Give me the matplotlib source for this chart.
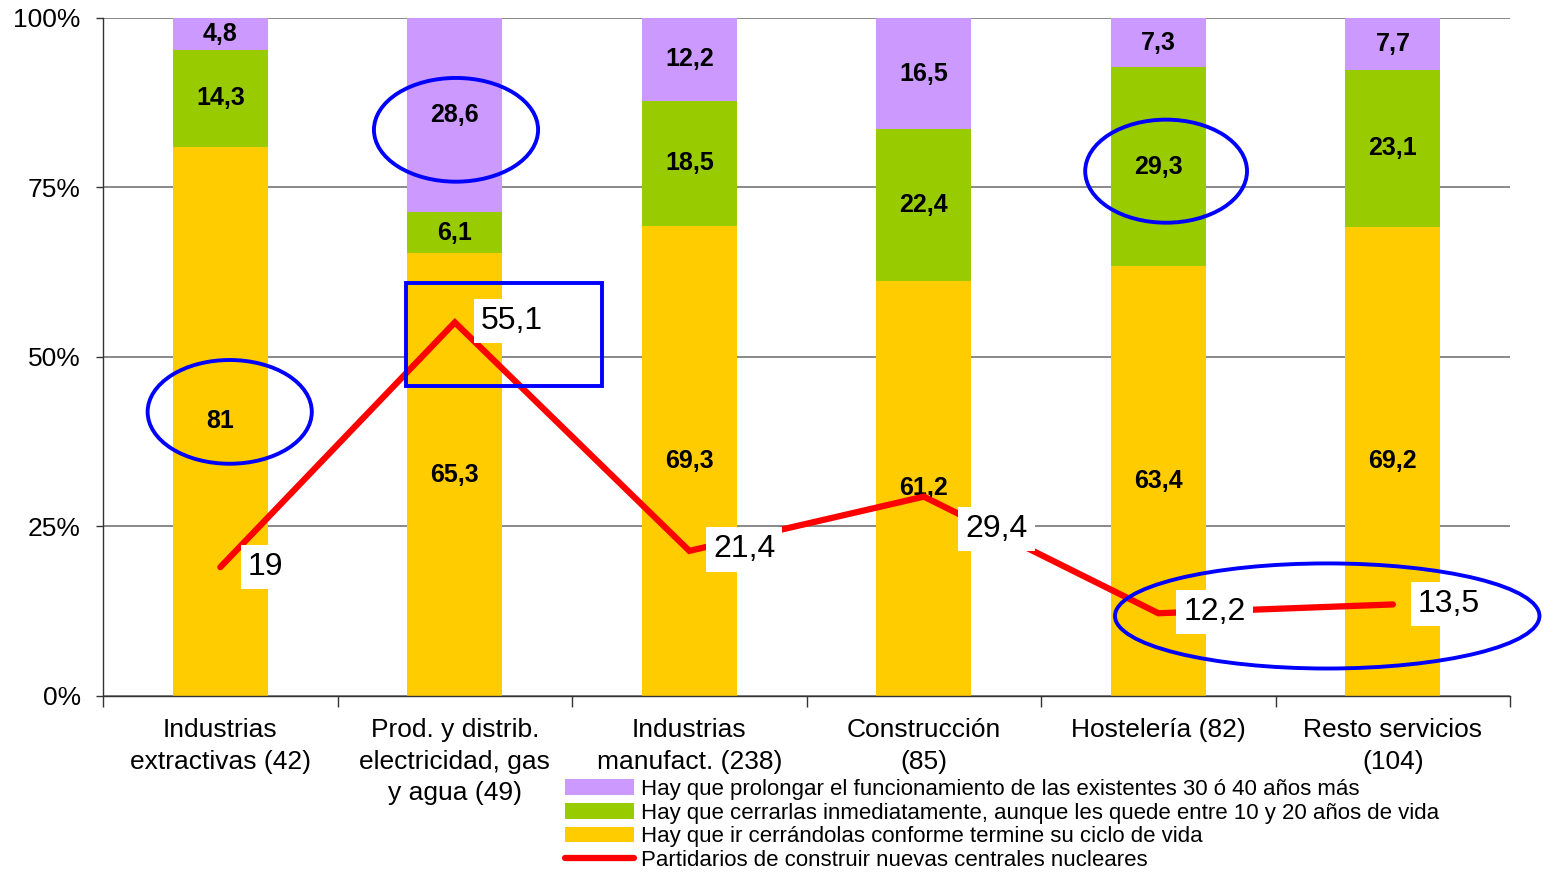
import matplotlib
matplotlib.use("Agg")
import matplotlib.pyplot as plt
import matplotlib.patches as mpatches
import numpy as np

plt.rcParams["font.family"] = ["Liberation Sans", "DejaVu Sans"]

# --- data -----------------------------------------------------------------
categories = [
    "Industrias\nextractivas (42)",
    "Prod. y distrib.\nelectricidad, gas\ny agua (49)",
    "Industrias\nmanufact. (238)",
    "Construcción\n(85)",
    "Hostelería (82)",
    "Resto servicios\n(104)",
]
ir_cerrando = [81, 65.3, 69.3, 61.2, 63.4, 69.2]
cerrar_ya = [14.3, 6.1, 18.5, 22.4, 29.3, 23.1]
prolongar = [4.8, 28.6, 12.2, 16.5, 7.3, 7.7]
partidarios = [19, 55.1, 21.4, 29.4, 12.2, 13.5]

series_names = [
    "Hay que prolongar el funcionamiento de las existentes 30 ó 40 años más",
    "Hay que cerrarlas inmediatamente, aunque les quede entre 10 y 20 años de vida",
    "Hay que ir cerrándolas conforme termine su ciclo de vida",
    "Partidarios de construir nuevas centrales nucleares",
]

YELLOW = "#FFCC00"
GREEN = "#99CC00"
PURPLE = "#CC99FF"
RED = "#FF0000"
BLUE = "#0000FF"


def fmt(v):
    return f"{v:g}".replace(".", ",")


fig = plt.figure(figsize=(15.43, 8.75), dpi=100)
ax = fig.add_axes([0.0668, 0.2046, 0.9119, 0.7749])

x = np.arange(len(categories))
w = 0.405
b1 = ax.bar(x, ir_cerrando, w, color=YELLOW, zorder=2)
b2 = ax.bar(x, cerrar_ya, w, bottom=ir_cerrando, color=GREEN, zorder=2)
bot3 = np.array(ir_cerrando) + np.array(cerrar_ya)
b3 = ax.bar(x, prolongar, w, bottom=bot3, color=PURPLE, zorder=2)

for cont, vals in ((b1, ir_cerrando), (b2, cerrar_ya), (b3, prolongar)):
    ax.bar_label(cont, labels=[fmt(v) for v in vals], label_type="center",
                 fontsize=18, fontweight="bold", color="black")

line, = ax.plot(x, partidarios, color=RED, lw=4.5, solid_capstyle="round",
                solid_joinstyle="miter", zorder=3)

# label offsets (points) relative to each line point
offsets = [(20, 0), (19, 1), (17, 1), (30, -23), (18, 1), (18, 0)]
for i, v in enumerate(partidarios):
    ax.annotate(fmt(v), (x[i], v), xytext=offsets[i], textcoords="offset points",
                ha="left", va="center", fontsize=23, zorder=5,
                bbox=dict(facecolor="white", edgecolor="none", pad=5))

# blue highlight marks
ell = dict(fill=False, edgecolor=BLUE, linewidth=2.8, zorder=6, clip_on=False)
ax.add_patch(mpatches.Ellipse((0.04, 41.9), 0.70, 15.3, **ell))
ax.add_patch(mpatches.Ellipse((1.005, 83.5), 0.70, 15.3, **ell))
ax.add_patch(mpatches.Ellipse((4.033, 77.4), 0.69, 15.2, **ell))
ax.add_patch(mpatches.Ellipse((4.72, 11.8), 1.81, 15.5, **ell))
ax.add_patch(mpatches.Rectangle((0.792, 45.7), 0.836, 15.2, **ell))

# axes
ax.set_xlim(-0.5, len(categories) - 0.5)
ax.set_ylim(0, 100)
ax.set_yticks([0, 25, 50, 75, 100])
ax.set_yticklabels(["0%", "25%", "50%", "75%", "100%"])
ax.tick_params(axis="y", length=5, width=1, pad=11, labelsize=19, color="#333")
ax.set_xticks(x)
ax.set_xticklabels(categories, fontsize=19, linespacing=1.4)
ax.tick_params(axis="x", which="major", length=0, pad=16)
ax.set_xticks(np.arange(-0.5, len(categories)), minor=True)
ax.tick_params(axis="x", which="minor", length=8, width=1, color="#333")

ax.yaxis.grid(True, color="#808080", lw=1.3)
ax.set_axisbelow(True)
for s in ("top", "right"):
    ax.spines[s].set_visible(False)
for s in ("left", "bottom"):
    ax.spines[s].set_color("#333")
    ax.spines[s].set_linewidth(1.0)

handles = [b3, b2, b1, line]
fig.legend(handles, series_names, loc="upper left",
           bbox_to_anchor=(565 / 1543, 1 - 779 / 875), frameon=False,
           fontsize=16, handlelength=3.1, handletextpad=0.3,
           labelspacing=0.12, borderpad=0, borderaxespad=0)

fig.savefig("out.png", dpi=100)
